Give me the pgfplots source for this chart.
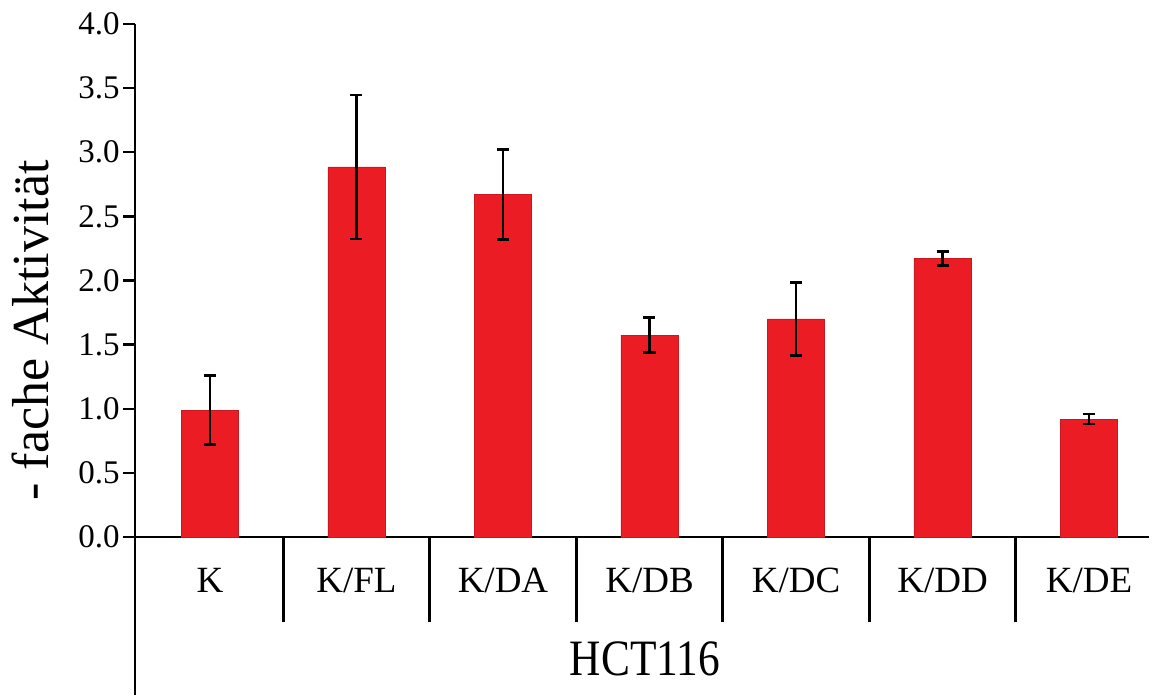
\documentclass[border=0pt]{standalone}
\usepackage{pgfplots}
\pgfplotsset{compat=1.18}
\usepackage{fontspec}
\setmainfont{Liberation Serif}
\definecolor{barred}{HTML}{EC1C24}
\begin{document}
\begin{tikzpicture}
\begin{axis}[
  scale only axis,
  width=507pt, height=335.5pt,
  xmin=-0.512, xmax=6.41,
  ymin=-1.232, ymax=4,
  axis y line=left,
  axis x line=middle,
  axis line style={line width=1.4pt, -},
  ytick={0,0.5,1,1.5,2,2.5,3,3.5,4},
  yticklabel style={font=\fontsize{16.5}{19}\selectfont, inner sep=1.5pt},
  /pgf/number format/.cd, fixed, fixed zerofill, precision=1, assume math mode=true,
  /pgfplots/.cd,
  tick align=outside,
  major tick length=6pt,
  every tick/.style={line width=1.2pt, black},
  xtick={0,1,2,3,4,5,6},
  xticklabels={K,K/FL,K/DA,K/DB,K/DC,K/DD,K/DE},
  x tick style={draw=none},
  xticklabel style={font=\fontsize{18.5}{21}\selectfont, anchor=base, yshift=-21.5pt},
  clip=false,
]
\addplot[ybar, bar width=0.39, fill=barred, draw=barred!85!black, line width=0.3pt,
  error bars/.cd, y dir=both, y explicit,
  error bar style={line width=1.3pt, black},
  error mark options={rotate=90, mark size=3pt, line width=1.3pt, black}]
  coordinates {
  (0,0.99) +- (0,0.27)
  (1,2.885) +- (0,0.56)
  (2,2.67) +- (0,0.35)
  (3,1.575) +- (0,0.135)
  (4,1.70) +- (0,0.285)
  (5,2.17) +- (0,0.055)
  (6,0.92) +- (0,0.04)
  };
\foreach \s in {0.5,1.5,2.5,3.5,4.5,5.5} {
  \edef\temp{\noexpand\draw[line width=1.3pt] (axis cs:\s,0) -- (axis cs:\s,-0.663);}
  \temp
}
\node[rotate=90, font=\fontsize{26}{29}\selectfont] at (axis cs:-1.222,1.61) {- fache Aktivität};
\node[font=\fontsize{25.5}{28}\selectfont] at (axis cs:2.969,-0.951) {\scalebox{0.85}[1]{HCT116}};
\coordinate (tl) at (axis cs:-1.433,4.187);
\coordinate (br) at (axis cs:6.457,-1.232);
\end{axis}
\path (tl) rectangle (br);
\end{tikzpicture}
\end{document}
